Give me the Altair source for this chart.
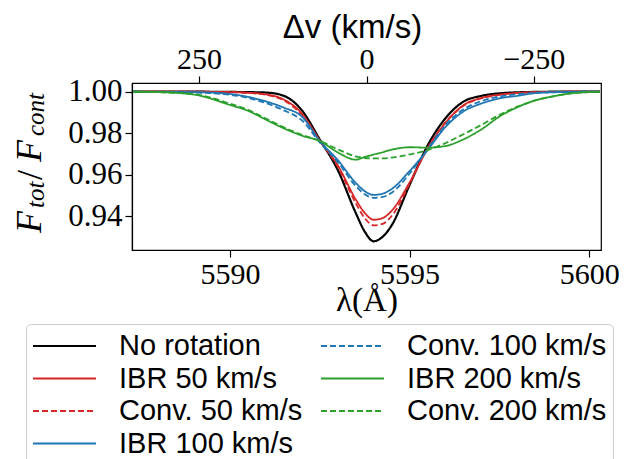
import altair as alt
import pandas as pd

# ---------------- data ----------------
wavelength = [5587.3, 5588.0, 5589.0, 5590.0, 5590.5, 5591.0, 5591.5, 5592.0, 5592.5,
              5593.0, 5593.5, 5593.75, 5594.0, 5594.25, 5594.5, 5595.0, 5595.5, 5596.0,
              5596.5, 5597.0, 5597.5, 5598.0, 5598.5, 5599.0, 5599.5, 5600.0, 5600.3]

no_rotation = [1.0, 1.0, 1.0, 0.9999, 0.9998, 0.9996, 0.9980, 0.9910, 0.9769,
               0.9622, 0.9415, 0.9325, 0.9278, 0.9300, 0.9355, 0.9550, 0.9740, 0.9872,
               0.9952, 0.9980, 0.9992, 0.9997, 0.9999, 1.0, 1.0, 1.0, 1.0]
ibr_50 = [1.0, 1.0, 1.0, 0.9998, 0.9995, 0.9987, 0.9962, 0.9895, 0.9765,
          0.9645, 0.9480, 0.9415, 0.9382, 0.9390, 0.9425, 0.9562, 0.9725, 0.9850,
          0.9935, 0.9970, 0.9986, 0.9994, 0.9998, 0.9999, 1.0, 1.0, 1.0]
conv_50 = [1.0, 1.0, 1.0, 0.9998, 0.9994, 0.9985, 0.9958, 0.9888, 0.9762,
           0.9638, 0.9462, 0.9390, 0.9355, 0.9362, 0.9400, 0.9555, 0.9728, 0.9852,
           0.9932, 0.9968, 0.9985, 0.9994, 0.9998, 0.9999, 1.0, 1.0, 1.0]
ibr_100 = [1.0, 0.9999, 0.9998, 0.9989, 0.9975, 0.9953, 0.9923, 0.9880, 0.9762,
           0.9670, 0.9560, 0.9520, 0.9502, 0.9508, 0.9530, 0.9617, 0.9718, 0.9830,
           0.9905, 0.9943, 0.9968, 0.9980, 0.9993, 0.9997, 0.9999, 1.0, 1.0]
conv_100 = [1.0, 0.9999, 0.9996, 0.9985, 0.9970, 0.9945, 0.9910, 0.9862, 0.9755,
            0.9660, 0.9545, 0.9505, 0.9488, 0.9492, 0.9512, 0.9605, 0.9722, 0.9840,
            0.9915, 0.9955, 0.9977, 0.9988, 0.9995, 0.9998, 0.9999, 1.0, 1.0]
ibr_200 = [1.0, 0.9998, 0.9986, 0.9936, 0.9908, 0.9865, 0.9823, 0.9788, 0.9762,
           0.9707, 0.9672, 0.9685, 0.9697, 0.9708, 0.9720, 0.9732, 0.9730, 0.9738,
           0.9770, 0.9818, 0.9880, 0.9925, 0.9958, 0.9978, 0.9992, 0.9998, 1.0]
conv_200 = [1.0, 0.9998, 0.9988, 0.9942, 0.9912, 0.9870, 0.9828, 0.9792, 0.9762,
            0.9722, 0.9688, 0.9680, 0.9678, 0.9678, 0.9682, 0.9697, 0.9718, 0.9752,
            0.9795, 0.9840, 0.9888, 0.9928, 0.9958, 0.9978, 0.9992, 0.9998, 1.0]

series_names = ["No rotation", "IBR 50 km/s", "Conv. 50 km/s", "IBR 100 km/s",
                "Conv. 100 km/s", "IBR 200 km/s", "Conv. 200 km/s"]
series_values = [no_rotation, ibr_50, conv_50, ibr_100, conv_100, ibr_200, conv_200]
series_colors = ["#000000", "#d62728", "#d62728", "#1f77b4", "#1f77b4", "#2ca02c", "#2ca02c"]
series_dashes = [[1, 0], [1, 0], [6, 3], [1, 0], [6, 3], [1, 0], [6, 3]]
series_widths = [2.2, 1.8, 1.8, 1.8, 1.8, 1.8, 1.8]

wavelength_ticks = [5590, 5595, 5600]
flux_ticks = [0.94, 0.96, 0.98, 1.00]
velocity_ticks = [250, 0, -250]

# ---------------- build table ----------------
rows = []
for name, vals in zip(series_names, series_values):
    for w, f in zip(wavelength, vals):
        rows.append({"wavelength": w, "flux": f, "series": name})
df = pd.DataFrame(rows)

SERIF = "Liberation Serif"
SANS = "Liberation Sans"

x_enc = alt.X("wavelength:Q",
              scale=alt.Scale(domain=[5587.27, 5600.33], nice=False, zero=False),
              axis=alt.Axis(values=wavelength_ticks, format="d", title="λ(Å)",
                            titleFont=SERIF, titleFontSize=33, titleFontWeight="normal",
                            titlePadding=-5, labelPadding=2))
y_enc = alt.Y("flux:Q",
              scale=alt.Scale(domain=[0.9236, 1.0042], nice=False, zero=False),
              axis=alt.Axis(values=flux_ticks, format=".2f", title=None, labelPadding=3,
                            labelFontSize=31))
color_enc = alt.Color("series:N",
                      scale=alt.Scale(domain=series_names, range=series_colors),
                      legend=alt.Legend(orient="none", legendX=-106, legendY=241,
                                        columns=2, columnPadding=17, rowPadding=0.5,
                                        clipHeight=32,
                                        symbolType="stroke", symbolSize=3969,
                                        symbolStrokeWidth=2, labelFont=SANS,
                                        labelFontSize=29, labelOffset=22, padding=6,
                                        strokeColor="#cccccc", cornerRadius=5,
                                        fillColor="white", labelLimit=400),
                      title=None)
dash_enc = alt.StrokeDash("series:N",
                          scale=alt.Scale(domain=series_names, range=series_dashes),
                          title=None)

line_layers = []
for name, sw in zip(series_names, series_widths):
    line_layers.append(
        alt.Chart(df).transform_filter(alt.datum.series == name)
        .mark_line(strokeWidth=sw, interpolate="monotone")
        .encode(x=x_enc, y=y_enc, color=color_enc, strokeDash=dash_enc)
    )

# y-axis title pieces F_tot / F_cont (rotated)
one = alt.Data(values=[{}])
def piece(txt, x, y, size, italic=True):
    return alt.Chart(one).mark_text(text=txt, angle=270, align="left", baseline="alphabetic",
                                    font=SERIF, fontSize=size,
                                    fontStyle="italic" if italic else "normal",
                                    color="black").encode(x=alt.value(x), y=alt.value(y))

title_layers = [
    piece("F", -91, 150, 36),
    piece("tot", -88, 125, 25),
    piece("/", -90, 97, 36, italic=False),
    piece("F", -91, 79, 36),
    piece("cont", -88, 53, 25),
]

main = alt.layer(*line_layers, *title_layers)

top_axis = alt.Chart(pd.DataFrame({"v": velocity_ticks})).mark_point(opacity=0).encode(
    x=alt.X("v:Q", scale=alt.Scale(domain=[350.2, -350.2], nice=False, zero=False),
            axis=alt.Axis(orient="top", values=velocity_ticks, format="d",
                          title="Δv (km/s)", titleFont=SANS, titleFontSize=33,
                          titleFontWeight="normal", titlePadding=0, labelPadding=2,
                          titleX=220))
)

chart = alt.layer(main, top_axis).resolve_scale(x="independent").properties(
    width=469, height=167,
    autosize=alt.AutoSizeParams(type="none"),
    padding={"left": 124, "top": 75, "right": 28, "bottom": 220},
).configure_view(stroke="black", strokeWidth=1.2).configure_axis(
    grid=False, domainColor="black", tickColor="black", labelColor="black",
    titleColor="black", labelFont=SERIF, labelFontSize=30, tickSize=7, tickWidth=1.2,
    domainWidth=1.2
)

chart.save("out.html", embed_options={"renderer": "svg", "actions": False})
